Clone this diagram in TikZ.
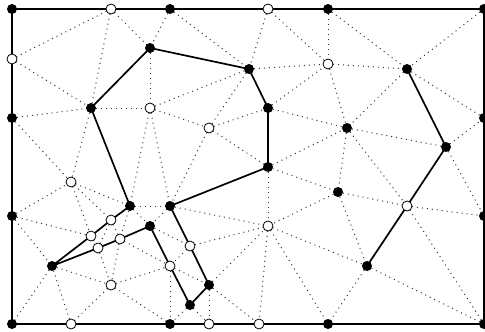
\documentclass[tikz,border=0pt]{standalone}
\usetikzlibrary{backgrounds}

\begin{document}
\begin{tikzpicture}[
  x=1pt, y=-1pt,
  site/.style={circle, fill=black, inner sep=0pt, minimum size=10pt},
  steiner/.style={circle, draw=black, fill=white, line width=0.8pt, inner sep=0pt, minimum size=10pt},
  mesh/.style={line width=1pt, black!80, dash pattern=on 1pt off 4pt},
  frame/.style={line width=2pt},
  chain/.style={line width=1.7pt, line join=round}
]
\useasboundingbox (0,0) rectangle (485,332);

% boundary vertices
\node[site]    (A)  at (12,9)    {};
\node[steiner] (a)  at (111,9)   {};
\node[site]    (B)  at (170,9)   {};
\node[steiner] (b)  at (268,9)   {};
\node[site]    (C)  at (328,9)   {};
\node[site]    (D)  at (484,9)   {};
\node[site]    (R1) at (484,118) {};
\node[site]    (R2) at (484,216) {};
\node[site]    (J)  at (484,324) {};
\node[site]    (I)  at (328,324) {};
\node[steiner] (s)  at (259,324) {};
\node[steiner] (r)  at (209,324) {};
\node[site]    (H)  at (170,324) {};
\node[steiner] (q)  at (71,324)  {};
\node[site]    (G)  at (12,324)  {};
\node[site]    (F)  at (12,216)  {};
\node[site]    (E)  at (12,118)  {};
\node[steiner] (c)  at (12,59)   {};

% interior vertices
\node[site]    (K)  at (150,48)  {};
\node[site]    (L)  at (249,69)  {};
\node[steiner] (f)  at (328,64)  {};
\node[site]    (O)  at (407,69)  {};
\node[site]    (N)  at (91,108)  {};
\node[steiner] (d)  at (150,108) {};
\node[site]    (M)  at (268,108) {};
\node[steiner] (e)  at (209,128) {};
\node[site]    (P)  at (347,128) {};
\node[site]    (Q)  at (446,147) {};
\node[site]    (R)  at (268,167) {};
\node[steiner] (g)  at (71,182)  {};
\node[site]    (V)  at (338,192) {};
\node[site]    (S)  at (130,206) {};
\node[site]    (T)  at (170,206) {};
\node[steiner] (o)  at (407,206) {};
\node[steiner] (h)  at (111,220) {};
\node[site]    (U)  at (150,226) {};
\node[steiner] (n)  at (268,226) {};
\node[steiner] (i)  at (91,236)  {};
\node[steiner] (j)  at (120,239) {};
\node[steiner] (k)  at (98,248)  {};
\node[steiner] (l)  at (190,246) {};
\node[site]    (W)  at (52,266)  {};
\node[steiner] (m)  at (170,266) {};
\node[site]    (X)  at (367,266) {};
\node[steiner] (p)  at (111,285) {};
\node[site]    (Y)  at (209,285) {};
\node[site]    (Z)  at (190,305) {};

\begin{scope}[on background layer]
% triangulation
\foreach \u/\v in {a/c, a/N, a/K, c/N, E/N, B/K, K/d, N/d, B/L, L/d, L/e, d/e,
  e/M, e/R, e/T, d/S, d/T, b/L, b/f, C/f, L/f, M/f, M/P, R/P, f/O, C/O, D/O,
  f/P, O/P, O/R1, P/Q, Q/R1, Q/R2, P/V, P/o, V/o, o/R2, o/J, V/X, X/J, X/I,
  R/n, R/V, V/n, n/X, n/I, n/s, T/n, l/n, Y/n, Y/s, Y/r, Z/r, Z/H, m/H, m/Y,
  l/m, U/l, T/U, S/U, S/T, S/j, h/j, h/k, i/k, j/m, j/p, k/p, p/m, p/H, p/q,
  W/q, W/p, W/G, F/W, F/i, F/g, E/g, N/g, g/S, g/h, g/i}
  \draw[mesh] (\u.center) -- (\v.center);

% outer frame
\draw[frame] (A.center) rectangle (J.center);

% polygon and open chain
\draw[chain] (K.center) -- (L.center) -- (M.center) -- (R.center) -- (T.center)
  -- (l.center) -- (Y.center) -- (Z.center) -- (m.center) -- (U.center)
  -- (j.center) -- (k.center) -- (W.center) -- (i.center) -- (h.center)
  -- (S.center) -- (N.center) -- cycle;
\draw[chain] (O.center) -- (Q.center) -- (o.center) -- (X.center);
\end{scope}
\end{tikzpicture}
\end{document}
